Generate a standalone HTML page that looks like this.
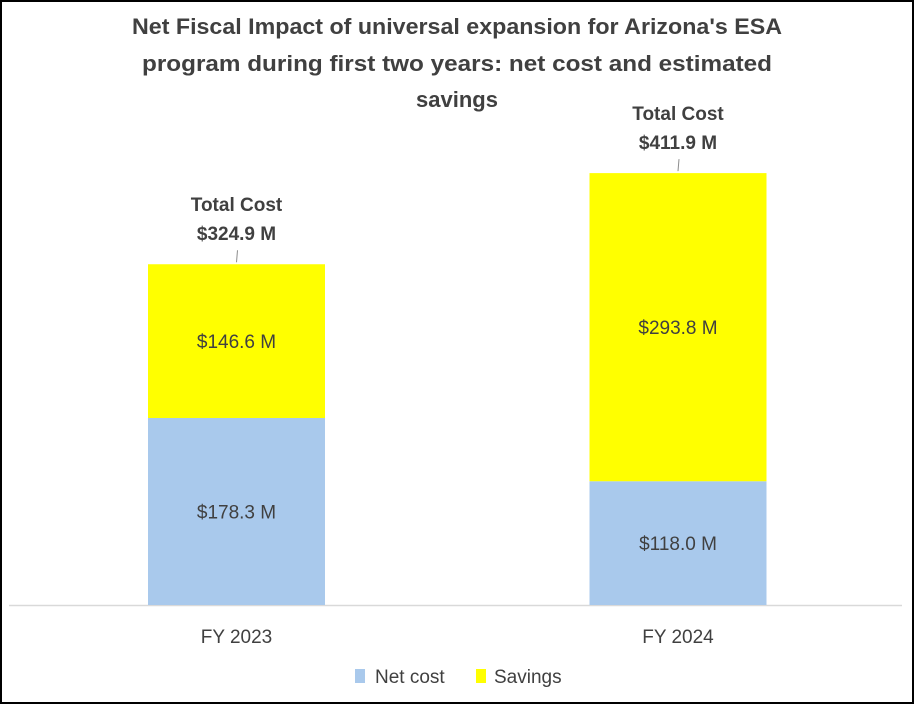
<!DOCTYPE html>
<html><head><meta charset="utf-8"><style>
html,body{margin:0;padding:0;background:#fff}
svg{display:block;font-family:"Liberation Sans",sans-serif}
</style></head><body>
<svg id="c" width="914" height="704" viewBox="0 0 914 704">
<rect x="1" y="1" width="912" height="702" fill="#fff" stroke="#000" stroke-width="2"/>
<g font-size="22" font-weight="bold" fill="#404040" text-anchor="middle">
<text x="457" y="34" textLength="650" lengthAdjust="spacingAndGlyphs">Net Fiscal Impact of universal expansion for Arizona's ESA</text>
<text x="457" y="71" textLength="630" lengthAdjust="spacingAndGlyphs">program during first two years: net cost and estimated</text>
<text x="457" y="107">savings</text>
</g>
<line x1="9" y1="605.5" x2="902" y2="605.5" stroke="#d9d9d9" stroke-width="1.5"/>
<g id="bars"></g>
<g font-size="19" fill="#404040">
<rect x="355" y="669" width="10" height="14" fill="#a9c9ec"/>
<text x="375" y="683">Net cost</text>
<rect x="476" y="669" width="10" height="14" fill="#ffff00"/>
<text x="494" y="683">Savings</text>
</g>
</svg>
<script>
const categories = ["FY 2023", "FY 2024"];
const netCost = [178.3, 118.0];
const savings = [146.6, 293.8];
const totals = [324.9, 411.9];

const NS = "http://www.w3.org/2000/svg";
const g = document.getElementById("bars");
const baseY = 605, pxPer = 187 / 178.3;
const y = v => baseY - v * pxPer;
const centers = [236.5, 678];
const barW = 177;
function mk(tag, attrs, text) {
  const e = document.createElementNS(NS, tag);
  for (const k in attrs) e.setAttribute(k, attrs[k]);
  if (text !== undefined) e.textContent = text;
  g.appendChild(e);
  return e;
}
categories.forEach((cat, i) => {
  const cx = centers[i], x0 = cx - barW / 2;
  const yNet = y(netCost[i]), yTop = y(netCost[i] + savings[i]);
  let r = mk("rect", {x: x0, y: yNet, width: barW, height: baseY - yNet, fill: "#a9c9ec"});
  
  
  r = mk("rect", {x: x0, y: yTop, width: barW, height: yNet - yTop, fill: "#ffff00"});
  
  
  let t = mk("text", {x: cx, y: (yNet + baseY) / 2 + 7, "text-anchor": "middle", "font-size": "19", fill: "#404040"}, "$" + netCost[i].toFixed(1) + " M");
  
  
  t = mk("text", {x: cx, y: (yTop + yNet) / 2 + 7, "text-anchor": "middle", "font-size": "19", fill: "#404040"}, "$" + savings[i].toFixed(1) + " M");
  
  
  const ln = mk("line", {x1: cx, y1: yTop - 2, x2: cx + 1, y2: yTop - 14, stroke: "#8c8c8c", "stroke-width": "1"});
  
  
  t = mk("text", {x: cx, y: yTop - 53, "text-anchor": "middle", "font-size": "19", "font-weight": "bold", fill: "#404040"}, "Total Cost");
  
  
  t = mk("text", {x: cx, y: yTop - 24, "text-anchor": "middle", "font-size": "19", "font-weight": "bold", fill: "#404040"}, "$" + totals[i].toFixed(1) + " M");
  
  
  t = mk("text", {x: cx, y: 643, "text-anchor": "middle", "font-size": "19", fill: "#404040"}, cat);
  
  
});
</script>
</body></html>
